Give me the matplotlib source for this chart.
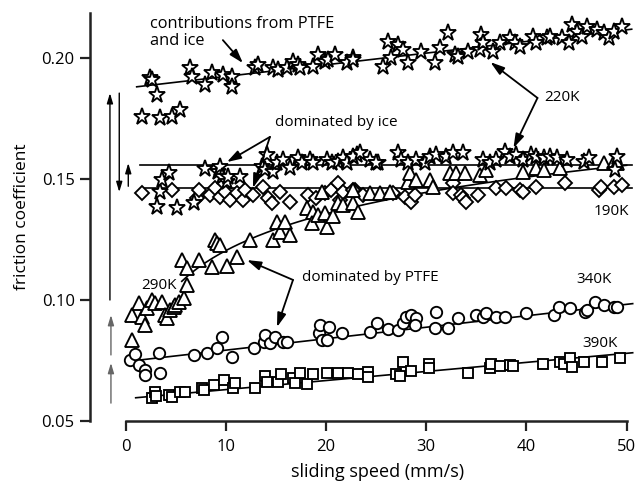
import matplotlib
matplotlib.use('Agg')
import matplotlib.pyplot as plt
import numpy as np

plt.rcParams['font.family'] = ['Open Sans', 'DejaVu Sans']

# ---------------- data ----------------
sq_x = [2.6, 2.9, 3.0, 4.3, 4.6, 5.4, 5.9, 7.6, 7.8, 8.8, 9.8, 10.7, 10.9, 12.9, 13.9, 14.1,
        15.2, 15.5, 16.7, 16.9, 17.4, 18.1, 18.7, 20.1, 21.2, 22.2, 23.2, 24.2, 24.2, 27.0,
        27.4, 27.7, 28.5, 30.3, 30.3, 34.2, 36.4, 36.5, 37.4, 38.4, 38.7, 41.6, 43.3, 43.7,
        44.3, 44.5, 45.7, 47.5, 49.3]
sq_y = [0.0594, 0.0621, 0.0605, 0.0607, 0.0598, 0.0621, 0.0621, 0.0635, 0.0630, 0.0649,
        0.0669, 0.0635, 0.0656, 0.0635, 0.0686, 0.0662, 0.0662, 0.0694, 0.0676, 0.0656,
        0.0700, 0.0652, 0.0694, 0.0697, 0.0697, 0.0700, 0.0694, 0.0704, 0.0681, 0.0694,
        0.0686, 0.0745, 0.0708, 0.0736, 0.0718, 0.0700, 0.0718, 0.0736, 0.0727, 0.0731,
        0.0727, 0.0736, 0.0745, 0.0736, 0.0759, 0.0724, 0.0745, 0.0745, 0.0759]

ci_x = [0.4, 0.9, 1.3, 1.9, 1.9, 3.3, 3.4, 6.8, 8.1, 9.1, 9.6, 10.6, 12.8, 13.8, 13.9, 14.4,
        14.9, 15.7, 16.1, 19.3, 19.4, 19.6, 20.1, 20.3, 21.6, 24.4, 25.1, 26.2, 27.2, 27.7,
        28.0, 28.5, 29.0, 28.9, 30.9, 31.0, 32.2, 33.2, 35.0, 35.7, 36.0, 37.0, 37.9, 40.0,
        42.7, 43.2, 44.3, 45.8, 46.0, 46.8, 47.7, 48.7, 49.0]
ci_y = [0.0752, 0.0777, 0.0731, 0.0711, 0.0690, 0.0782, 0.0697, 0.0773, 0.0780, 0.0800,
        0.0846, 0.0766, 0.0800, 0.0828, 0.0855, 0.0821, 0.0846, 0.0828, 0.0828, 0.0862,
        0.0897, 0.0835, 0.0835, 0.0890, 0.0865, 0.0869, 0.0904, 0.0879, 0.0876, 0.0904,
        0.0931, 0.0938, 0.0924, 0.0897, 0.0883, 0.0952, 0.0883, 0.0924, 0.0938, 0.0931,
        0.0945, 0.0931, 0.0931, 0.0948, 0.0938, 0.0972, 0.0966, 0.0952, 0.0959, 0.0993,
        0.0979, 0.0972, 0.0970]

tr_x = [0.6, 0.6, 1.3, 1.6, 1.9, 2.1, 2.6, 2.9, 3.6, 3.9, 4.1, 4.4, 4.8, 4.9, 5.3, 5.8, 6.1,
        5.6, 6.1, 7.3, 8.6, 10.1, 11.1, 8.9, 9.1, 9.4, 12.4, 14.7, 15.1, 15.4, 15.9, 16.4,
        18.1, 18.7, 18.6, 19.2, 20.1, 19.9, 20.7, 21.2, 21.7, 22.7, 23.2, 24.4, 19.6, 22.7,
        25.4, 26.4, 28.2, 28.4, 29.0, 30.4, 30.7, 32.4, 33.0, 33.9, 35.4, 36.0, 39.7, 41.0,
        41.7, 43.3, 47.7, 48.7, 49.0]
tr_y = [0.0835, 0.0938, 0.0986, 0.0931, 0.0897, 0.0966, 0.1000, 0.0986, 0.0993, 0.0938,
        0.0924, 0.0959, 0.0972, 0.0979, 0.0993, 0.1007, 0.1062, 0.1165, 0.1131, 0.1165,
        0.1135, 0.1140, 0.1179, 0.1248, 0.1234, 0.1227, 0.1248, 0.1248, 0.1324, 0.1282,
        0.1324, 0.1269, 0.1379, 0.1365, 0.1319, 0.1351, 0.1303, 0.1358, 0.1347, 0.1400,
        0.1393, 0.1400, 0.1365, 0.1441, 0.1448, 0.1455, 0.1441, 0.1448, 0.1489, 0.1524,
        0.1496, 0.1496, 0.1468, 0.1524, 0.1524, 0.1524, 0.1517, 0.1537, 0.1530, 0.1544,
        0.1537, 0.1544, 0.1565, 0.1572, 0.1565]

di_x = [1.6, 4.6, 7.1, 7.3, 8.4, 8.9, 9.4, 9.9, 10.4, 11.1, 11.7, 11.9, 12.7, 13.7, 14.2,
        14.6, 15.4, 16.4, 18.2, 19.0, 19.9, 20.5, 21.2, 21.4, 21.7, 22.9, 22.7, 23.7, 26.7,
        27.9, 28.5, 28.9, 32.7, 32.7, 33.5, 33.7, 34.0, 35.2, 37.0, 38.0, 39.4, 39.7, 41.0,
        43.8, 47.2, 47.4, 48.7, 49.5]
di_y = [0.1441, 0.1455, 0.1420, 0.1455, 0.1434, 0.1462, 0.1427, 0.1448, 0.1413, 0.1441,
        0.1413, 0.1455, 0.1434, 0.1468, 0.1420, 0.1400, 0.1448, 0.1406, 0.1434, 0.1420,
        0.1441, 0.1455, 0.1482, 0.1413, 0.1448, 0.1455, 0.1455, 0.1434, 0.1441, 0.1427,
        0.1406, 0.1434, 0.1482, 0.1441, 0.1434, 0.1420, 0.1406, 0.1434, 0.1462, 0.1462,
        0.1455, 0.1448, 0.1468, 0.1482, 0.1455, 0.1468, 0.1468, 0.1475]

st_lo_x = [3.1, 3.4, 3.6, 4.3, 5.1, 6.8, 7.9, 9.2, 9.4, 9.6, 10.1, 10.2, 11.4, 13.6, 13.9,
           14.1, 14.7, 15.1, 15.7, 16.4, 17.2, 17.6, 18.4, 18.7, 20.1, 20.6, 21.2, 21.7,
           22.1, 23.1, 24.4, 25.2, 22.7, 23.4, 25.0, 27.2, 27.5, 28.2, 29.0, 29.9, 30.4,
           31.0, 32.0, 32.7, 33.7, 35.7, 36.4, 37.0, 37.9, 38.4, 39.0, 39.7, 40.5, 41.0,
           41.7, 42.3, 43.0, 44.0, 45.7, 46.2, 49.0, 48.8]
st_lo_y = [0.1386, 0.1448, 0.1496, 0.1524, 0.1379, 0.1400, 0.1540, 0.1530, 0.1551, 0.1510,
           0.1489, 0.1510, 0.1510, 0.1551, 0.1537, 0.1599, 0.1530, 0.1565, 0.1579, 0.1544,
           0.1586, 0.1565, 0.1579, 0.1565, 0.1579, 0.1565, 0.1572, 0.1586, 0.1565, 0.1599,
           0.1579, 0.1565, 0.1592, 0.1606, 0.1565, 0.1606, 0.1579, 0.1565, 0.1579, 0.1565,
           0.1592, 0.1599, 0.1592, 0.1606, 0.1606, 0.1579, 0.1565, 0.1579, 0.1613, 0.1592,
           0.1599, 0.1579, 0.1599, 0.1592, 0.1586, 0.1592, 0.1586, 0.1579, 0.1572, 0.1586,
           0.1592, 0.1537]

st_hi_x = [1.6, 2.4, 2.6, 3.1, 3.4, 4.6, 5.4, 6.4, 6.6, 7.9, 8.6, 9.7, 10.6, 10.6, 12.9,
           13.2, 14.7, 15.2, 16.1, 16.7, 17.2, 17.4, 18.7, 19.2, 19.9, 20.2, 20.9, 22.1,
           22.7, 22.7, 25.7, 26.2, 26.5, 27.2, 27.7, 28.2, 29.5, 30.9, 31.4, 32.2, 32.9,
           33.2, 34.2, 35.4, 35.5, 35.7, 36.7, 37.4, 38.4, 38.9, 39.4, 40.7, 41.0, 42.0,
           42.3, 43.5, 44.2, 44.5, 45.0, 45.5, 46.0, 47.0, 47.7, 48.2, 48.7, 49.5]
st_hi_y = [0.1757, 0.1916, 0.1909, 0.1847, 0.1751, 0.1757, 0.1785, 0.1957, 0.1923, 0.1888,
           0.1937, 0.1930, 0.1923, 0.1881, 0.1957, 0.1971, 0.1957, 0.1950, 0.1957, 0.1985,
           0.1971, 0.1957, 0.1964, 0.2012, 0.1985, 0.1992, 0.2012, 0.1978, 0.1999, 0.1992,
           0.1964, 0.2067, 0.1999, 0.2054, 0.2033, 0.1978, 0.2026, 0.1978, 0.2040, 0.2102,
           0.2012, 0.2005, 0.2026, 0.2033, 0.2095, 0.2061, 0.2026, 0.2061, 0.2081, 0.2061,
           0.2047, 0.2088, 0.2061, 0.2081, 0.2088, 0.2081, 0.2061, 0.2136, 0.2109, 0.2088,
           0.2129, 0.2116, 0.2102, 0.2081, 0.2109, 0.2129]

# fitted lines (end points) and log fit (y = a + b ln x) for 290K
fit_390_x = [1.0, 50.6]
fit_390_y = [0.0596, 0.0782]
fit_340_x = [1.4, 50.6]
fit_340_y = [0.0752, 0.0985]
fit_190_x = [1.9, 50.5]
fit_190_y = [0.1462, 0.1462]
fit_220lo_x = [1.4, 50.5]
fit_220lo_y = [0.1558, 0.1558]
fit_220hi_x = [1.1, 50.5]
fit_220hi_y = [0.1881, 0.2119]
fit_290_ab = [0.0700, 0.0219]
fit_290_xrange = [5.6, 50.0]

# ---------------- figure ----------------
fig = plt.figure(figsize=(6.41, 4.86), dpi=100)
ax = fig.add_axes([90 / 641, 65 / 486, 551 / 641, 408 / 486])
ax.set_xlim(-3.56, 51.43)
ax.set_ylim(0.05, 0.2186)

lw_fit = 1.2
ax.plot(fit_390_x, fit_390_y, color='black', lw=lw_fit, zorder=2)
ax.plot(fit_340_x, fit_340_y, color='black', lw=lw_fit, zorder=2)
ax.plot(fit_190_x, fit_190_y, color='black', lw=lw_fit, zorder=2)
ax.plot(fit_220lo_x, fit_220lo_y, color='black', lw=lw_fit, zorder=2)
ax.plot(fit_220hi_x, fit_220hi_y, color='black', lw=lw_fit, zorder=2)
xx = np.linspace(fit_290_xrange[0], fit_290_xrange[1], 200)
ax.plot(xx, fit_290_ab[0] + fit_290_ab[1] * np.log(xx), color='black', lw=lw_fit, zorder=2)

mk = dict(linestyle='none', markerfacecolor='white', markeredgecolor='black',
          markeredgewidth=1.35, clip_on=False, zorder=3)
ax.plot(sq_x, sq_y, marker='s', ms=7.2, **mk)
ax.plot(ci_x, ci_y, marker='o', ms=8.2, **mk)
ax.plot(di_x, di_y, marker='D', ms=7.2, **mk)
ax.plot(tr_x, tr_y, marker='^', ms=9.5, **mk)
ax.plot(st_lo_x, st_lo_y, marker='*', ms=12.5, **mk)
ax.plot(st_hi_x, st_hi_y, marker='*', ms=12.5, **mk)

# axes styling
for s in ['top', 'right']:
    ax.spines[s].set_visible(False)
ax.spines['left'].set_bounds(0.05, 0.2186)
ax.spines['bottom'].set_bounds(0, 50)
ax.spines['left'].set_linewidth(1.8)
ax.spines['bottom'].set_linewidth(1.8)
ax.spines['left'].set_color('#222222')
ax.spines['bottom'].set_color('#222222')
ax.set_yticks([0.05, 0.10, 0.15, 0.20])
ax.set_yticklabels(['0.05', '0.10', '0.15', '0.20'])
ax.set_xticks([0, 10, 20, 30, 40, 50])
ax.tick_params(axis='y', direction='out', length=7, width=1.6, labelsize=12, pad=4,
               color='#222222')
ax.tick_params(axis='x', direction='out', length=7, width=1.6, labelsize=12, pad=6,
               color='#222222')
ax.set_xlabel('sliding speed (mm/s)', fontsize=13, labelpad=6)
ax.xaxis.label.set_x((378 - 90) / 551)
ax.set_ylabel('friction coefficient', fontsize=12.5, labelpad=8)

# annotations
ap = dict(arrowstyle='-|>,head_length=0.7,head_width=0.22', color='black', lw=1.3,
          shrinkA=0, shrinkB=0, mutation_scale=12)
fs = 11
ax.text(2.4, 0.2105, 'contributions from PTFE\nand ice', fontsize=11.8, va='center',
        ha='left', linespacing=1.1)
ax.annotate('', xy=(11.7, 0.1979), xytext=(9.7, 0.2074), arrowprops=ap)

ax.text(14.9, 0.1732, 'dominated by ice', fontsize=fs, va='center', ha='left')
ax.annotate('', xy=(10.1, 0.1570), xytext=(14.4, 0.1674), arrowprops=ap)
ax.annotate('', xy=(12.7, 0.1463), xytext=(14.4, 0.1674), arrowprops=ap)

ax.text(41.8, 0.1835, '220K', fontsize=fs, va='center', ha='left')
ax.annotate('', xy=(36.4, 0.1983), xytext=(41.1, 0.1835), arrowprops=ap)
ax.annotate('', xy=(38.7, 0.1628), xytext=(41.1, 0.1835), arrowprops=ap)

ax.text(46.7, 0.1364, '190K', fontsize=fs, va='center', ha='left')
ax.text(1.6, 0.1058, '290K', fontsize=fs, va='center', ha='left')
ax.text(45.0, 0.1083, '340K', fontsize=fs, va='center', ha='left')
ax.text(45.6, 0.0822, '390K', fontsize=fs, va='center', ha='left')

ax.text(17.6, 0.1091, 'dominated by PTFE', fontsize=fs, va='center', ha='left')
ax.annotate('', xy=(12.1, 0.1165), xytext=(16.7, 0.1083), arrowprops=ap)
ax.annotate('', xy=(15.1, 0.0888), xytext=(16.7, 0.1083), arrowprops=ap)

# vertical arrows on the left
va_ap = dict(arrowstyle='-|>,head_length=0.6,head_width=0.18', lw=1.0, shrinkA=0,
             shrinkB=0, mutation_scale=10)
ax.annotate('', xy=(-1.57, 0.1855), xytext=(-1.57, 0.1000),
            arrowprops=dict(color='black', **va_ap))
ax.annotate('', xy=(-0.64, 0.1446), xytext=(-0.64, 0.1855),
            arrowprops=dict(color='black', **va_ap))
ax.annotate('', xy=(0.26, 0.1566), xytext=(0.26, 0.1470),
            arrowprops=dict(color='black', **va_ap))
ax.annotate('', xy=(-1.47, 0.0938), xytext=(-1.47, 0.0773),
            arrowprops=dict(color='#666666', **va_ap))
ax.annotate('', xy=(-1.47, 0.0740), xytext=(-1.47, 0.0574),
            arrowprops=dict(color='#666666', **va_ap))

fig.savefig('out.png', dpi=100)
